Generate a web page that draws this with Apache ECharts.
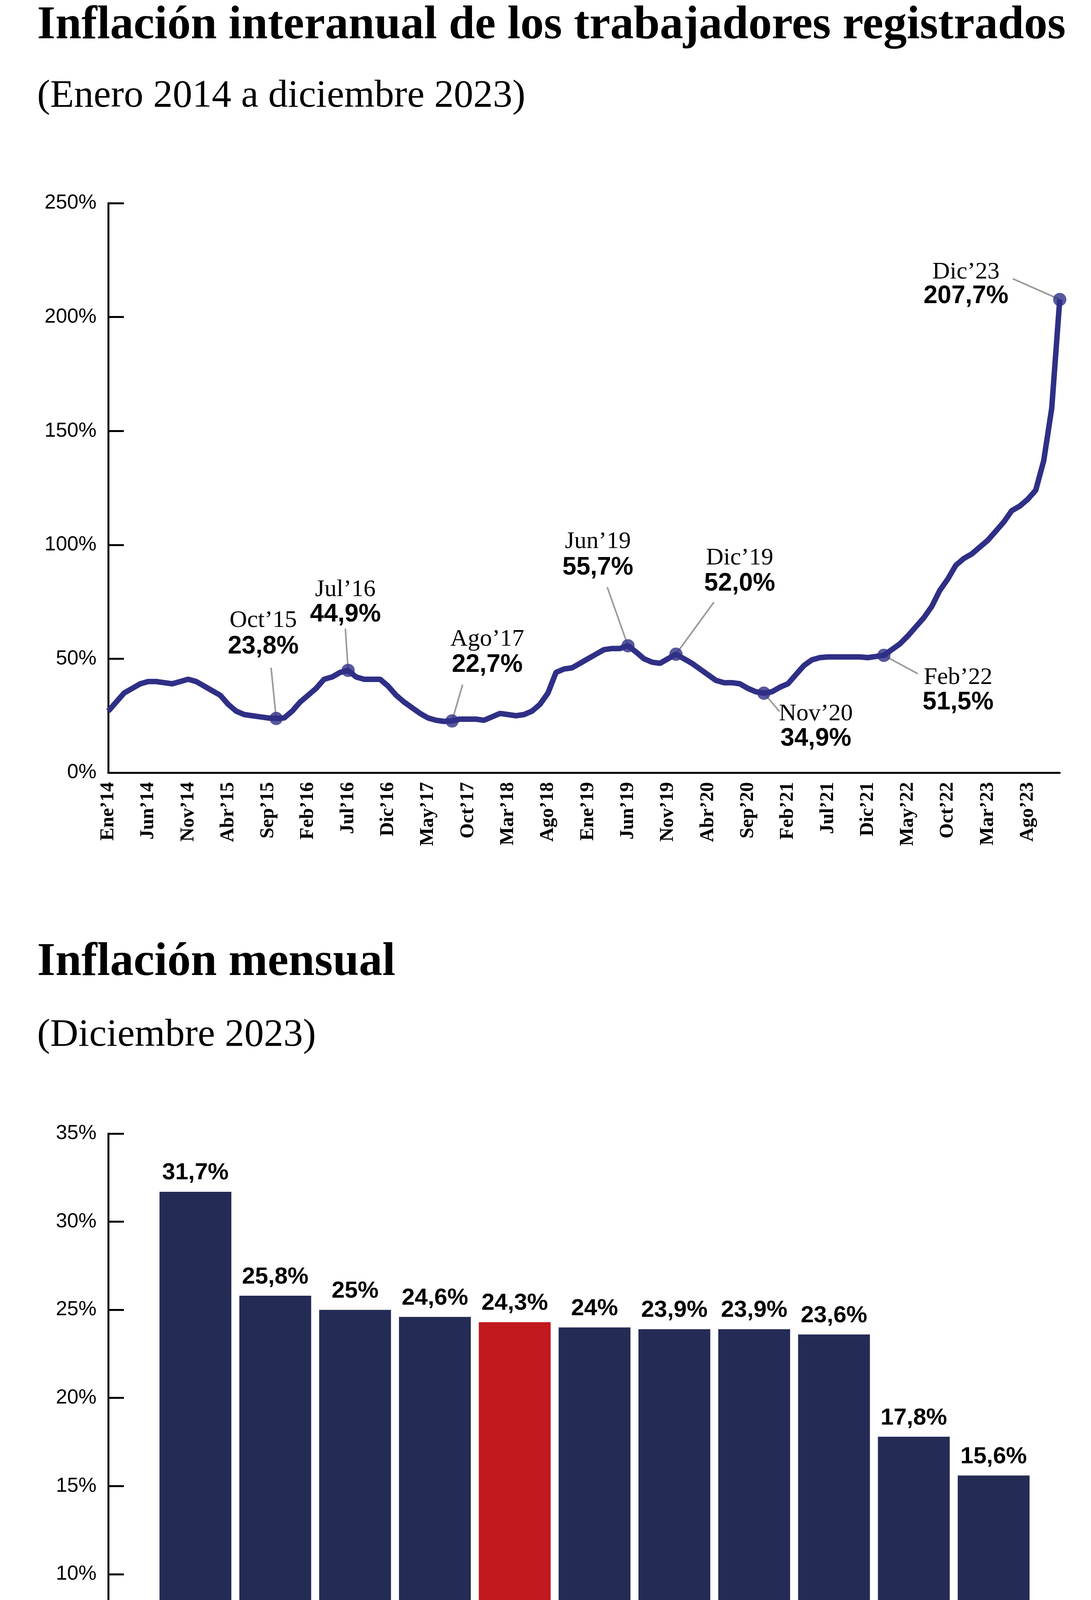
<!DOCTYPE html>
<html>
<head>
<meta charset="utf-8">
<script src="https://cdn.jsdelivr.net/npm/echarts@6/dist/echarts.min.js"></script>
<style>
body { margin: 0; background: #fff; }
#main { width: 2792px; height: 5232px; }
</style>
</head>
<body>
<div id="main"></div>
<script>
const meses = ['Ene', 'Feb', 'Mar', 'Abr', 'May', 'Jun', 'Jul', 'Ago', 'Sep', 'Oct', 'Nov', 'Dic'];
let line = [];
for (let a = 14; a <= 23; a++) meses.forEach((m) => line[line.length] = m + '\u2019' + a);

// inflacion interanual, ene 2014 - dic 2023
const temp = [
  27, 31, 35, 37, 39, 40, 40, 39.5, 39, 40, 41, 40,
  38, 36, 34, 30, 27, 25.5, 25, 24.5, 24, 23.8, 24, 27,
  31, 34, 37, 41, 42, 44, 44.9, 42, 41, 41, 41, 38,
  34, 31, 28.5, 26, 24, 23, 22.5, 22.7, 23.5, 23.5, 23.5, 23,
  24.5, 26, 25.5, 25, 25.5, 27, 30, 35, 44, 45.5, 46, 48,
  50, 52, 54, 54.5, 54.5, 55.7, 53, 50, 48.5, 48, 50, 52.0,
  50, 48, 45.5, 43, 40.5, 39.5, 39.5, 39, 37, 35.5, 34.9, 35.5,
  37.5, 39, 43, 47, 49.5, 50.5, 50.8, 50.8, 50.8, 50.8, 50.8, 50.5,
  51, 51.5, 54, 56.5, 60, 64, 68, 73, 80, 85, 91, 94,
  96, 99, 102, 106, 110, 115, 117, 120, 124, 137, 160, 207.7
];

const notas = [
  {i: 21, n: 'Oct\u201915', v: '23,8%', ld: [-13, -130], tx: -33, ny: -250, vy: -184},
  {i: 30, n: 'Jul\u201916', v: '44,9%', ld: [-7, -107], tx: -7, ny: -206, vy: -143},
  {i: 43, n: 'Ago\u201917', v: '22,7%', ld: [27, -93], tx: 90, ny: -209, vy: -143},
  {i: 65, n: 'Jun\u201919', v: '55,7%', ld: [-53, -150], tx: -77, ny: -266, vy: -200},
  {i: 71, n: 'Dic\u201919', v: '52,0%', ld: [97, -133], tx: 163, ny: -246, vy: -180},
  {i: 82, n: 'Nov\u201920', v: '34,9%', ld: [40, 47], tx: 133, ny: 53, vy: 117},
  {i: 97, n: 'Feb\u201922', v: '51,5%', ld: [87, 47], tx: 190, ny: 57, vy: 121},
  {i: 119, n: 'Dic\u201923', v: '207,7%', ld: [-120, -53], tx: -240, ny: -70, vy: -8}
];

const rubros = ['Transporte', 'Salud', 'Comunicaciones', 'Alimentos y bebidas', 'Nivel general',
  'Recreación y cultura', 'Otros', 'Educación', 'Vivienda', 'Equipamiento del hogar', 'Indumentaria y calzado'];
const mensual = [31.7, 25.8, 25, 24.6, 24.3, 24, 23.9, 23.9, 23.6, 17.8, 15.6];

const azul = '#2f2f86';
const barra = '#242b55';
const rojo = '#c1191e';
const serif = 'Liberation Serif';
const sans = 'Liberation Sans';

const myChart = echarts.init(document.getElementById('main'));
const option = {
  backgroundColor: '#fff',
  animation: false,
  title: [
    {text: 'Inflación interanual de los trabajadores registrados', left: 90, top: 2,
      textStyle: {fontFamily: serif, fontWeight: 'bold', fontSize: 120, color: '#000'}},
    {text: '(Enero 2014 a diciembre 2023)', left: 90, top: 192,
      textStyle: {fontFamily: serif, fontWeight: 'normal', fontSize: 100, color: '#000'}},
    {text: 'Inflación mensual', left: 90, top: 2400,
      textStyle: {fontFamily: serif, fontWeight: 'bold', fontSize: 120, color: '#000'}},
    {text: '(Diciembre 2023)', left: 90, top: 2596,
      textStyle: {fontFamily: serif, fontWeight: 'normal', fontSize: 100, color: '#000'}},
    {text: 'FUENTES: IET / UMET / CCD', left: 70, top: 5172,
      textStyle: {fontFamily: serif, fontWeight: 'normal', fontSize: 44, color: '#000'}},
    {text: 'INFOGRAFÍA LA CAPITAL', right: 10, top: 5172,
      textStyle: {fontFamily: serif, fontWeight: 'bold', fontSize: 46, color: '#000'}}
  ],
  grid: [
    {left: 277, right: 80, top: 520, height: 1458},
    {left: 277, right: 82, top: 2902, height: 1579},
    {left: 398, right: 147, top: 2902, height: 1579}
  ],
  xAxis: [
    {gridIndex: 0, type: 'category', data: line, boundaryGap: false,
      axisLine: {lineStyle: {color: '#000', width: 5}}, axisTick: {show: false},
      axisLabel: {interval: 4, rotate: 90, fontFamily: serif, fontWeight: 'bold', fontSize: 50, color: '#000', margin: 24}},
    {gridIndex: 1, type: 'value', min: 0, max: 1, show: true,
      axisLine: {lineStyle: {color: '#000', width: 5}}, axisTick: {show: false},
      axisLabel: {show: false}, splitLine: {show: false}},
    {gridIndex: 2, type: 'category', data: rubros,
      axisLine: {show: false}, axisTick: {show: false},
      axisLabel: {interval: 0, rotate: 45, fontFamily: serif, fontSize: 54, color: '#000', margin: 30}}
  ],
  yAxis: [
    {gridIndex: 0, type: 'value', min: 0, max: 250, interval: 50,
      axisLine: {show: true, lineStyle: {color: '#000', width: 5}},
      axisTick: {show: true, inside: true, length: 40, lineStyle: {color: '#000', width: 5}},
      axisLabel: {formatter: '{value}%', fontFamily: sans, fontSize: 52, color: '#000', margin: 30},
      splitLine: {show: false}},
    {gridIndex: 1, type: 'value', min: 0, max: 35, interval: 5,
      axisLine: {show: true, lineStyle: {color: '#000', width: 5}},
      axisTick: {show: true, inside: true, length: 40, lineStyle: {color: '#000', width: 5}},
      axisLabel: {formatter: '{value}%', fontFamily: sans, fontSize: 52, color: '#000', margin: 30},
      splitLine: {show: false}},
    {gridIndex: 2, type: 'value', min: 0, max: 35, show: false}
  ],
  series: [
    {type: 'line', xAxisIndex: 0, yAxisIndex: 0, data: temp,
      showSymbol: false, lineStyle: {color: azul, width: 14}, z: 3},
    {type: 'scatter', xAxisIndex: 0, yAxisIndex: 0, symbolSize: 34,
      itemStyle: {color: azul}, z: 4,
      data: notas.map((el) => [el.i, temp[el.i]])},
    {type: 'bar', xAxisIndex: 2, yAxisIndex: 2, barCategoryGap: '10%',
      data: mensual.map((v, k) => ({value: v, itemStyle: {color: k === 4 ? rojo : barra}})),
      label: {show: true, position: 'top', distance: 18, fontFamily: sans, fontWeight: 'bold',
        fontSize: 60, color: '#000', formatter: (p) => String(p.value).replace('.', ',') + '%'}}
  ]
};
myChart.setOption(option);

// anotaciones del grafico de lineas
let graficos = [];
notas.forEach((el) => {
  const p = myChart.convertToPixel({xAxisIndex: 0, yAxisIndex: 0}, [el.i, temp[el.i]]);
  graficos.push({type: 'line', z: 2, shape: {x1: p[0], y1: p[1], x2: p[0] + el.ld[0], y2: p[1] + el.ld[1]},
    style: {stroke: '#999', lineWidth: 4}});
  graficos.push({type: 'text', x: p[0] + el.tx, y: p[1] + el.ny, z: 5,
    style: {text: el.n, font: '62px "Liberation Serif"', fill: '#000', align: 'center', verticalAlign: 'middle'}});
  graficos.push({type: 'text', x: p[0] + el.tx, y: p[1] + el.vy, z: 5,
    style: {text: el.v, font: 'bold 64px "Liberation Sans"', fill: '#000', align: 'center', verticalAlign: 'middle'}});
});
graficos.push({type: 'rect', shape: {x: 0, y: 5132, width: 2792, height: 4}, style: {fill: '#000'}});
myChart.setOption({graphic: graficos});
</script>
</body>
</html>
